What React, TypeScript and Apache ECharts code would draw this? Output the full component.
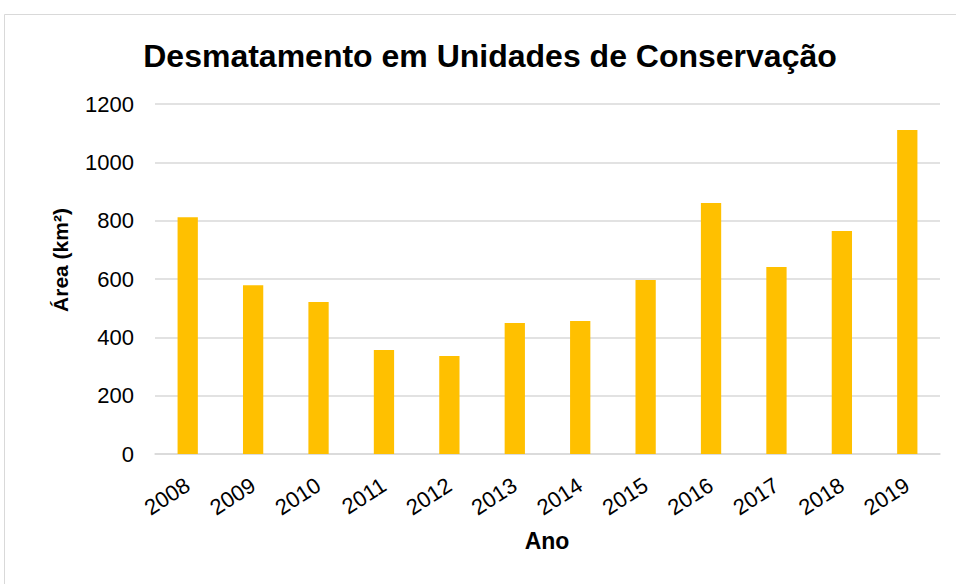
import React, { useEffect, useRef } from "react";
import * as echarts from "echarts";

const TITLE = "Desmatamento em Unidades de Conservação";
const Y_NAME = "Área (km²)";
const X_NAME = "Ano";
const categories = ["2008", "2009", "2010", "2011", "2012", "2013", "2014", "2015", "2016", "2017", "2018", "2019"];
const values = [812, 579, 521, 357, 336, 449, 456, 597, 861, 641, 765, 1111];
const yTicks = [0, 200, 400, 600, 800, 1000, 1200];

export default function App() {
  const ref = useRef<HTMLDivElement>(null);
  useEffect(() => {
    if (!ref.current) return;
    const chart = echarts.init(ref.current, undefined, { renderer: "svg" });
    const font = "Arial, 'Liberation Sans', sans-serif";
    chart.setOption({
      animation: false,
      backgroundColor: "#ffffff",
      textStyle: { fontFamily: font },
      title: {
        text: TITLE,
        left: 485,
        top: 35,
        textAlign: "center",
        textStyle: { fontSize: 32, fontWeight: "bold", color: "#000000", fontFamily: font },
      },
      graphic: [
        {
          type: "rect",
          shape: { x: 4.5, y: 14.5, width: 1000, height: 700 },
          style: { fill: "none", stroke: "#d9d9d9", lineWidth: 1 },
          silent: true,
        },
        {
          type: "text",
          x: 60,
          y: 260,
          rotation: Math.PI / 2,
          style: {
            text: Y_NAME,
            fontSize: 21,
            fontWeight: "bold",
            fill: "#000000",
            fontFamily: font,
            align: "center",
            verticalAlign: "middle",
          },
        },
        {
          type: "text",
          x: 547,
          y: 541,
          style: {
            text: X_NAME,
            fontSize: 23,
            fontWeight: "bold",
            fill: "#000000",
            fontFamily: font,
            align: "center",
            verticalAlign: "middle",
          },
        },
      ],
      grid: { left: 155, right: 16, top: 104, bottom: 130, containLabel: false },
      xAxis: {
        type: "category",
        data: categories,
        axisLine: { show: true, lineStyle: { color: "#d9d9d9", width: 1.5 } },
        axisTick: { show: false },
        axisLabel: {
          rotate: 33,
          margin: 29,
          fontSize: 22,
          color: "#000000",
          fontFamily: font,
          interval: 0,
        },
      },
      yAxis: {
        type: "value",
        min: 0,
        max: yTicks[yTicks.length - 1],
        interval: yTicks[1] - yTicks[0],
        axisLine: { show: false },
        axisTick: { show: false },
        splitLine: { show: true, lineStyle: { color: "#d9d9d9", width: 1.5 } },
        axisLabel: {
          fontSize: 22,
          color: "#000000",
          fontFamily: font,
          margin: 21,
          formatter: (v: number) => String(v),
        },
      },
      series: [
        {
          type: "bar",
          data: values,
          barWidth: "31%",
          itemStyle: { color: "#FFC000" },
        },
      ],
    });
    return () => chart.dispose();
  }, []);
  return <div ref={ref} style={{ position: "fixed", left: 0, top: 0, width: 956, height: 584 }} />;
}
